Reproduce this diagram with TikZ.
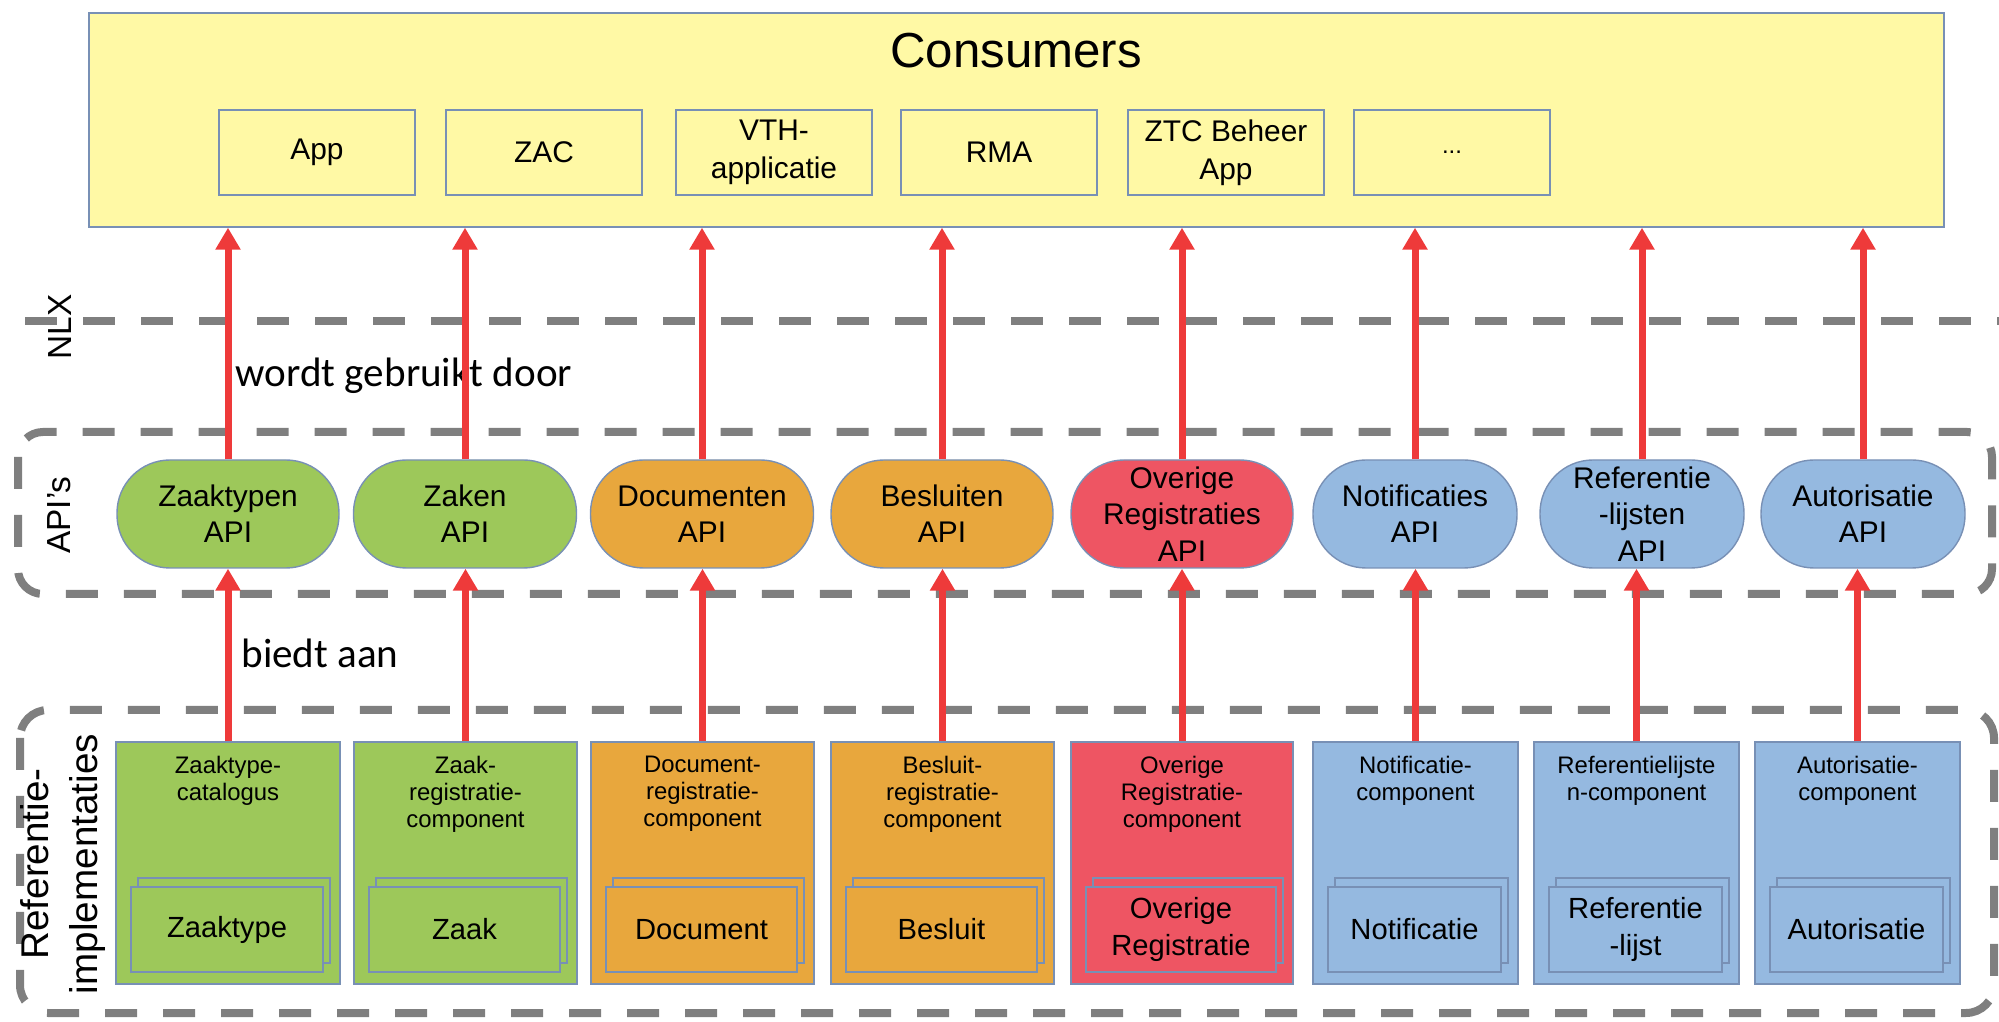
\documentclass[tikz,border=0pt]{standalone}
\usepackage{fontspec}
\setmainfont{Liberation Sans}
\newfontfamily\calibrifont{Carlito}
\usetikzlibrary{arrows.meta}
\definecolor{zgreen}{HTML}{9DC85A}
\definecolor{zorange}{HTML}{E8A73D}
\definecolor{zred}{HTML}{EE5563}
\definecolor{zblue}{HTML}{95B9E0}
\definecolor{zyellow}{HTML}{FFF9A5}
\definecolor{zedge}{HTML}{7890B5}
\definecolor{zarrow}{HTML}{EE3A3A}
\definecolor{zdash}{HTML}{7F7F7F}
\begin{document}
\begin{tikzpicture}[x=0.1mm, y=-0.1mm,
        layer/.style={draw=zdash, line width=0.8mm, dash pattern=on 3.2mm off 2.6mm},
        flow/.style={draw=zarrow, line width=0.7mm, -{Triangle[width=2.4mm,length=2.2mm]}},
        appbox/.style={draw=zedge, fill=zyellow, minimum width=19.6mm, minimum height=8.5mm, inner sep=0pt, align=center, font=\fontsize{8.5}{10.8}\selectfont},
        apinode/.style={draw=zedge, rounded corners=5.3mm, minimum height=10.8mm, inner sep=0pt, align=center, font=\fontsize{8.5}{10.3}\selectfont},
        compbox/.style={draw=zedge, minimum height=24.2mm, inner sep=0pt},
        entbox/.style={draw=zedge, minimum height=8.5mm, inner sep=0pt, align=center, font=\fontsize{8.3}{10.5}\selectfont},
        sidelabel/.style={rotate=90, inner sep=0pt, font=\fontsize{9.5}{11}\selectfont},
        flowlabel/.style={inner sep=0pt, font=\calibrifont\fontsize{11.7}{14}\selectfont}]
    \useasboundingbox (0,0) rectangle (1999,1022);
    \node[draw=zedge, fill=zyellow, minimum width=185.5mm, minimum height=21.4mm, inner sep=0pt] (cons) at (1016.5,120) {};
    \node[font=\fontsize{14}{16}\selectfont] (constitle) at (1016,51) {Consumers};
    \foreach \x/\name/\lab in {317/app/App, 544/zac/ZAC, 774/vth/{VTH-\\applicatie}, 999/rma/RMA, 1226/ztc/{ZTC Beheer\\App}, 1452/more/{\fontsize{6.8}{8}\selectfont ...}}{
        \node[appbox] (\name) at (\x,152.5) {\lab};
    }
    \coordinate (nlxleft) at (25,321);
    \coordinate (nlxright) at (1999,321);
    \draw[layer] (nlxleft) -- (nlxright);
    \draw[layer, rounded corners=2.5mm] (18,432) rectangle (1992,594);
    \draw[layer, rounded corners=2.8mm] (20,710) rectangle (1994,1013);
    \node[sidelabel] (nlx) at (60,327) {NLX};
    \node[sidelabel] (apis) at (59,515) {API’s};
    \node[sidelabel, align=center, font=\fontsize{11}{14}\selectfont] (refimpl) at (63,864) {Referentie-\\implementaties};
    \node[flowlabel] (usedby) at (404,376) {wordt gebruikt door};
    \node[flowlabel] (offers) at (320,653) {biedt aan};
    \foreach \i/\ax/\aw/\bx/\bw/\c/\api/\comp/\ent in {
            1/228/222/228/224/zgreen/{Zaaktypen\\API}/{Zaaktype-\\catalogus}/Zaaktype,
            2/465/223/465.5/223/zgreen/{Zaken\\API}/{Zaak-\\registratie-\\component}/Zaak,
            3/702/223/702.5/223/zorange/{Documenten\\API}/{Document-\\registratie-\\component}/Document,
            4/942/222/942.5/223/zorange/{Besluiten\\API}/{Besluit-\\registratie-\\component}/Besluit,
            5/1182/222/1182/222/zred/{Overige\\Registraties\\API}/{Overige\\Registratie-\\component}/{Overige\\Registratie},
            6/1415/204/1415.5/205/zblue/{Notificaties\\API}/{Notificatie-\\component}/Notificatie,
            7/1642/204/1636.5/205/zblue/{Referentie\\-lijsten\\API}/{Referentielijste\\n-component}/{Referentie\\-lijst},
            8/1863/204/1857.5/205/zblue/{Autorisatie\\API}/{Autorisatie-\\component}/Autorisatie}{
        \node[apinode, fill=\c, minimum width=\aw*0.1mm] (api\i) at (\ax,514) {\api};
        \node[compbox, fill=\c, minimum width=\bw*0.1mm] (comp\i) at (\bx,863) {};
        \node[anchor=north, align=center, inner sep=0pt, font=\fontsize{6.8}{7.7}\selectfont] (comptitle\i) at (\bx,755) {\comp};
        \node[entbox, fill=\c, minimum width=(\bw-32)*0.1mm] (back\i) at (\bx+6,920.5) {};
        \node[entbox, fill=\c, minimum width=(\bw-32)*0.1mm] (ent\i) at (\bx-1,929.5) {\ent};
        \draw[flow] (comp\i.north) -- (comp\i.north |- api\i.south);
        \draw[flow] (api\i.north) -- (api\i.north |- cons.south);
    }
\end{tikzpicture}
\end{document}
